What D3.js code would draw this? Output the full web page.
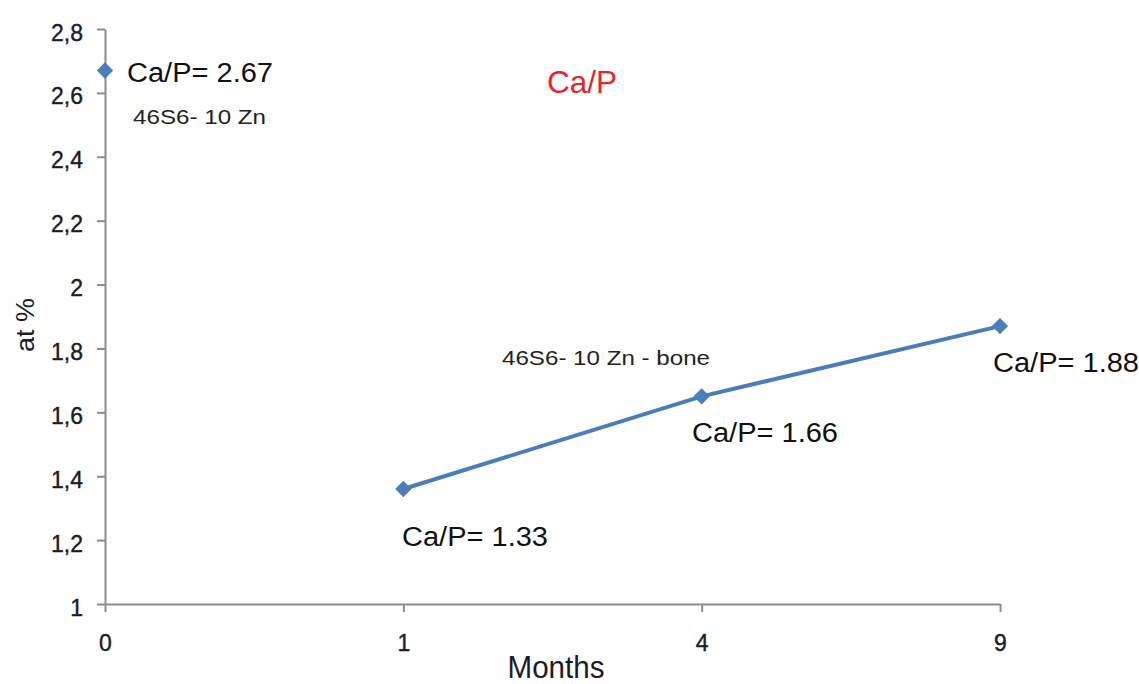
<!DOCTYPE html>
<html><head><meta charset="utf-8">
<script src="https://cdn.jsdelivr.net/npm/d3@7"></script>
<style>body{margin:0;background:#fff;} text{font-family:"Liberation Sans",Arial,sans-serif;}</style>
</head><body>
<svg id="c" width="1139" height="684"></svg>
<script>
const categories = ["0","1","4","9"];
const isolatedValues = [2.67];           // month 0
const boneMonths = ["1","4","9"];
const boneValues = [1.36, 1.65, 1.87];
const pointLabels = ["Ca/P= 2.67","Ca/P= 1.33","Ca/P= 1.66","Ca/P= 1.88"];
const yTicks = [1,1.2,1.4,1.6,1.8,2,2.2,2.4,2.6,2.8];

const svg = d3.select("#c");
const x = d3.scalePoint().domain(categories).range([105, 1000]);
const y = d3.scaleLinear().domain([1, 2.8]).range([604, 29]);
const axisCol = "#8c8c8c", txtCol = "#1c1c24";
const blue = "#4a7ebb";

// y axis
const ya = svg.append("g").attr("transform","translate(105,0)")
  .call(d3.axisLeft(y).tickValues(yTicks).tickSize(8).tickSizeOuter(0)
    .tickFormat(d => d3.format(".1f")(d).replace(".", ",").replace(",0","")));
ya.select(".domain").attr("stroke",axisCol).attr("stroke-width",2);
ya.selectAll(".tick line").attr("stroke",axisCol).attr("stroke-width",2);
ya.selectAll(".tick text").attr("fill",txtCol).attr("font-size",23).attr("x",-22).attr("dy","0.48em")
  .attr("stroke",txtCol).attr("stroke-width",0.4);

// x axis
const xa = svg.append("g").attr("transform","translate(0,604)")
  .call(d3.axisBottom(x).tickSize(8).tickSizeOuter(0));
xa.select(".domain").attr("stroke",axisCol).attr("stroke-width",2);
xa.selectAll(".tick line").attr("stroke",axisCol).attr("stroke-width",2);
xa.selectAll(".tick text").attr("fill",txtCol).attr("font-size",23).attr("y",47).attr("dy",0)
  .attr("stroke",txtCol).attr("stroke-width",0.4);

// axis titles
svg.append("text").attr("x",556).attr("y",678).attr("text-anchor","middle")
  .attr("font-size",32).attr("fill",txtCol).attr("textLength",97).attr("lengthAdjust","spacingAndGlyphs").text("Months");
svg.append("text").attr("transform","translate(34,325) rotate(-90)").attr("text-anchor","middle")
  .attr("font-size",25).attr("fill",txtCol).attr("textLength",54).attr("lengthAdjust","spacingAndGlyphs").text("at %");

// title
svg.append("text").attr("x",582).attr("y",93).attr("text-anchor","middle")
  .attr("font-size",32).attr("fill","#e8232a").attr("textLength",70).attr("lengthAdjust","spacingAndGlyphs").text("Ca/P");

// line
const line = d3.line().x((d,i)=>x(boneMonths[i])).y(d=>y(d));
svg.append("path").datum(boneValues).attr("d",line).attr("fill","none")
  .attr("stroke",blue).attr("stroke-width",4);

const sym = d3.symbol().type(d3.symbolDiamond2).size(170);
const pts = [{c:"0",v:isolatedValues[0]}].concat(boneMonths.map((m,i)=>({c:m,v:boneValues[i]})));
svg.selectAll(".pt").data(pts).enter().append("path")
  .attr("transform",d=>`translate(${x(d.c)},${y(d.v)})`)
  .attr("d",sym).attr("fill",blue);

// point labels
const lblPos = [[127,82],[402,546],[692,442],[993,372]];
pointLabels.forEach((t,i)=>{
  svg.append("text").attr("x",lblPos[i][0]).attr("y",lblPos[i][1])
    .attr("font-size",27).attr("fill","#111").attr("textLength",146).attr("lengthAdjust","spacingAndGlyphs").text(t);
});
svg.append("text").attr("x",133).attr("y",124).attr("font-size",21).attr("fill","#222")
  .attr("textLength",133).attr("lengthAdjust","spacingAndGlyphs").text("46S6- 10 Zn");
svg.append("text").attr("x",502).attr("y",365).attr("font-size",21).attr("fill","#222")
  .attr("textLength",208).attr("lengthAdjust","spacingAndGlyphs").text("46S6- 10 Zn - bone");
</script>
</body></html>
